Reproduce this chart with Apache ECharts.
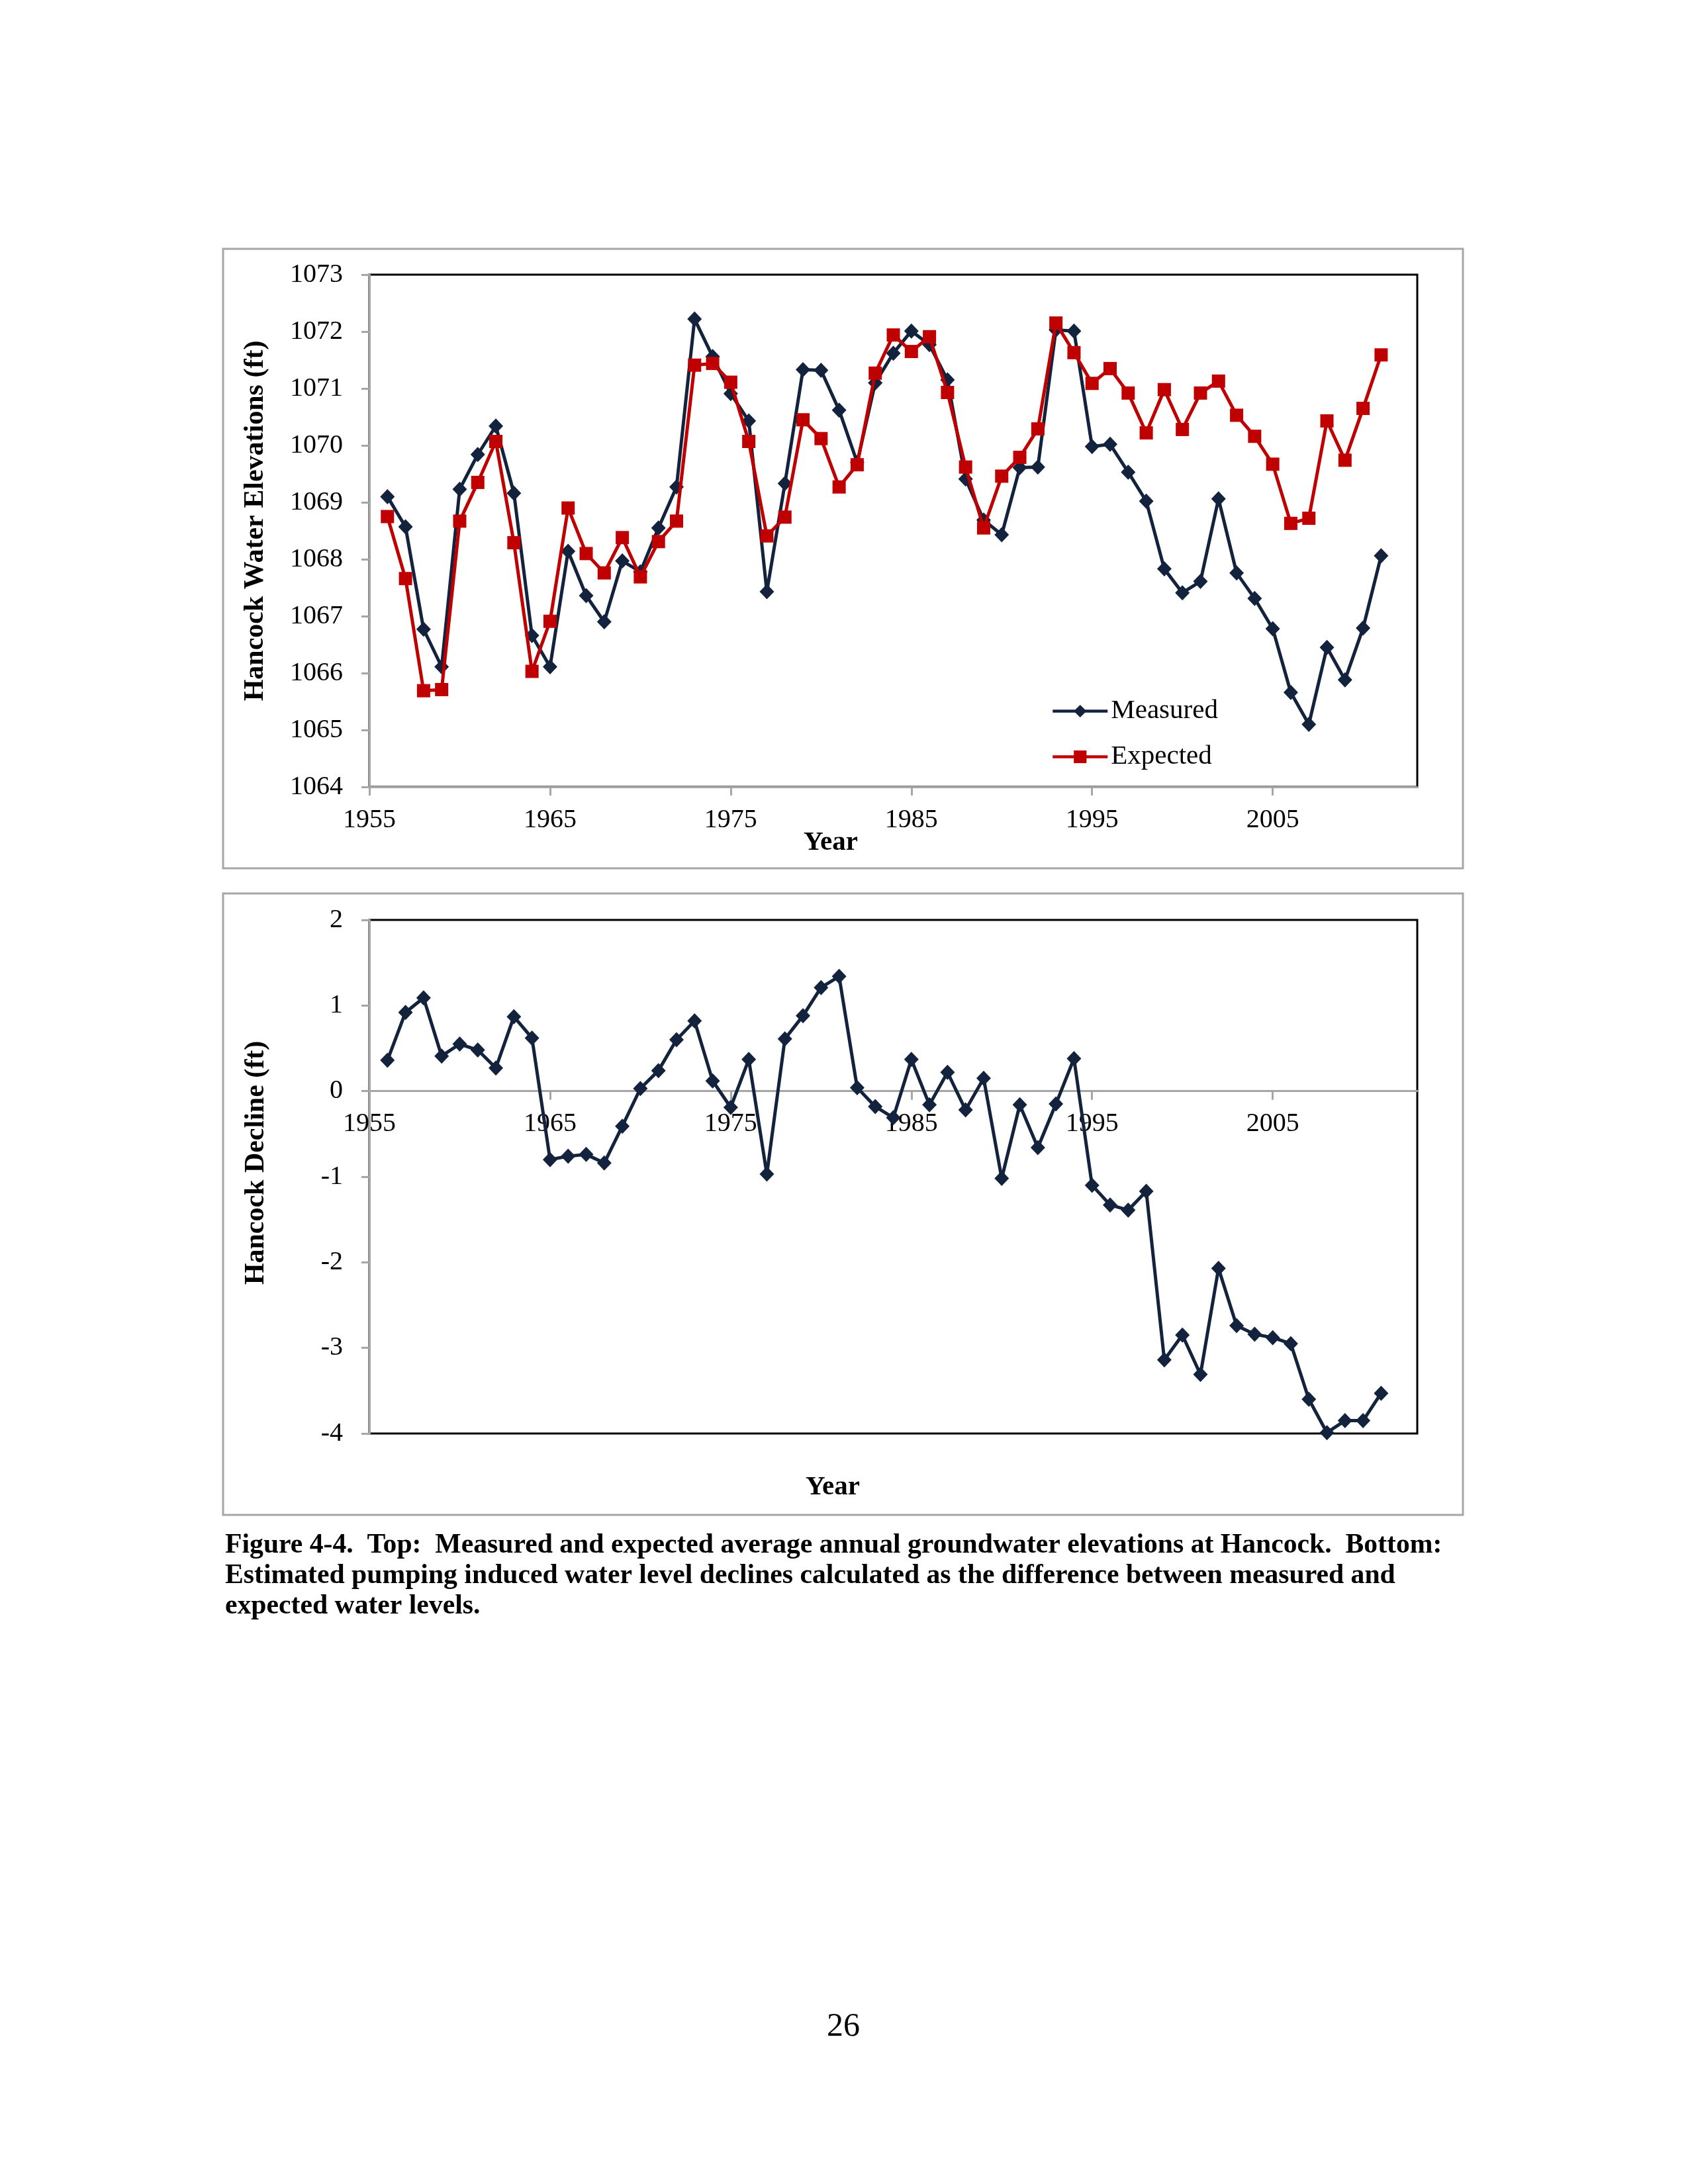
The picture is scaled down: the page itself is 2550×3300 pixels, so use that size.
<!DOCTYPE html>
<html><head><meta charset="utf-8">
<script src="https://cdn.jsdelivr.net/npm/echarts@6/dist/echarts.min.js"></script>
<style>html,body{margin:0;padding:0;background:#fff}#c{width:2550px;height:3300px}</style>
</head><body><div id="c"></div>
<script>
const years = [1956,1957,1958,1959,1960,1961,1962,1963,1964,1965,1966,1967,1968,1969,1970,
  1971,1972,1973,1974,1975,1976,1977,1978,1979,1980,1981,1982,1983,1984,1985,1986,1987,1988,
  1989,1990,1991,1992,1993,1994,1995,1996,1997,1998,1999,2000,2001,2002,2003,2004,2005,2006,
  2007,2008,2009,2010,2011];
const measured = [1069.10,1068.57,1066.77,1066.11,1069.23,1069.84,1070.34,1069.16,1066.66,1066.11,
  1068.14,1067.36,1066.90,1067.97,1067.78,1068.55,1069.27,1072.22,1071.56,1070.91,1070.43,1067.43,
  1069.33,1071.33,1071.32,1070.62,1069.70,1071.10,1071.62,1072.01,1071.77,1071.15,1069.41,1068.69,
  1068.43,1069.61,1069.62,1072.03,1072.01,1069.98,1070.02,1069.53,1069.02,1067.83,1067.41,1067.61,
  1069.06,1067.76,1067.31,1066.78,1065.66,1065.10,1066.45,1065.88,1066.79,1068.06];
const expected = [1068.75,1067.66,1065.69,1065.71,1068.67,1069.35,1070.07,1068.29,1066.03,1066.91,
  1068.90,1068.10,1067.76,1068.38,1067.69,1068.31,1068.67,1071.41,1071.44,1071.11,1070.07,1068.41,
  1068.74,1070.45,1070.12,1069.27,1069.66,1071.27,1071.94,1071.65,1071.91,1070.93,1069.62,1068.55,
  1069.46,1069.79,1070.29,1072.15,1071.63,1071.09,1071.35,1070.92,1070.22,1070.98,1070.28,1070.92,
  1071.13,1070.53,1070.16,1069.67,1068.63,1068.72,1070.43,1069.74,1070.65,1071.59];
const decline = [0.36,0.92,1.09,0.41,0.55,0.48,0.27,0.87,0.62,-0.80,-0.76,-0.74,-0.84,-0.41,0.03,
  0.24,0.60,0.82,0.12,-0.19,0.37,-0.97,0.61,0.88,1.21,1.34,0.04,-0.18,-0.31,0.37,-0.16,0.22,-0.22,
  0.15,-1.02,-0.16,-0.66,-0.15,0.38,-1.10,-1.33,-1.39,-1.17,-3.14,-2.85,-3.31,-2.07,-2.74,-2.84,
  -2.88,-2.95,-3.60,-3.99,-3.85,-3.85,-3.53];
const xTickLabels = [1955,1965,1975,1985,1995,2005];
const topTitleY = 'Hancock Water Elevations (ft)';
const bottomTitleY = 'Hancock Decline (ft)';
const xTitle = 'Year';
const seriesNames = ['Measured','Expected'];
const captionLines = [
  'Figure 4-4.  Top:  Measured and expected average annual groundwater elevations at Hancock.  Bottom:',
  'Estimated pumping induced water level declines calculated as the difference between measured and',
  'expected water levels.'
];
const pageNumber = '26';

const FONT = '"Liberation Serif", "Times New Roman", serif';
const NAVY = '#14233d';
const RED = '#c00000';
const GRAY = '#a6a6a6';

const pair = (ys, vs) => ys.map((y, i) => [y, vs[i]]);
const plain = v => String(v);

const BOTTOM_TOP = 1390, BOTTOM_H = 776, BOTTOM_MIN = -4, BOTTOM_MAX = 2;
// offset of the label axis from the bottom edge up to the zero line
const zeroOffset = -(BOTTOM_H * (0 - BOTTOM_MIN) / (BOTTOM_MAX - BOTTOM_MIN));

function xAxisCfg(gi, opts) {
  return Object.assign({
    type: 'value', gridIndex: gi, min: 1955, max: 2013, interval: 10,
    axisLine: { show: true, onZero: true, lineStyle: { color: GRAY, width: 3 } },
    axisTick: { show: true, inside: false, length: 13, customValues: xTickLabels,
      lineStyle: { color: GRAY, width: 3 } },
    axisLabel: { show: true, customValues: xTickLabels, margin: 30, color: '#000',
      fontFamily: FONT, fontSize: 40, formatter: plain },
    splitLine: { show: false }
  }, opts || {});
}
function yAxisCfg(gi, min, max) {
  return {
    type: 'value', gridIndex: gi, min: min, max: max, interval: 1,
    axisLine: { show: true, onZero: false, lineStyle: { color: GRAY, width: 3 } },
    axisTick: { show: true, inside: false, length: 12, lineStyle: { color: GRAY, width: 3 } },
    axisLabel: { margin: 40, color: '#000', fontFamily: FONT, fontSize: 40, formatter: plain },
    splitLine: { show: false }
  };
}

const chart = echarts.init(document.getElementById('c'), null, { renderer: 'canvas' });
chart.setOption({
  backgroundColor: '#fff',
  animation: false,
  grid: [
    { left: 558, top: 415, width: 1583, height: 774, show: true, borderColor: '#000', borderWidth: 3, backgroundColor: 'transparent' },
    { left: 558, top: BOTTOM_TOP, width: 1583, height: BOTTOM_H, show: true, borderColor: '#000', borderWidth: 3, backgroundColor: 'transparent' }
  ],
  xAxis: [
    xAxisCfg(0),
    xAxisCfg(1, { axisLabel: { show: false } }),
    xAxisCfg(1, {
      position: 'bottom', offset: zeroOffset,
      axisLine: { show: false, onZero: false },
      axisTick: { show: false },
      axisLabel: { show: true, customValues: xTickLabels, margin: 30, color: '#000',
        fontFamily: FONT, fontSize: 40, formatter: plain }
    })
  ],
  yAxis: [yAxisCfg(0, 1064, 1073), yAxisCfg(1, BOTTOM_MIN, BOTTOM_MAX)],
  legend: {
    data: seriesNames, orient: 'vertical', left: 1583, top: 1049,
    itemWidth: 83, itemHeight: 24, itemGap: 28,
    lineStyle: { width: 4.5 },
    textStyle: { fontFamily: FONT, fontSize: 41, color: '#000' }
  },
  series: [
    { name: seriesNames[0], type: 'line', xAxisIndex: 0, yAxisIndex: 0, data: pair(years, measured),
      symbol: 'diamond', symbolSize: [22, 23], lineStyle: { color: NAVY, width: 5 },
      itemStyle: { color: NAVY }, z: 3 },
    { name: seriesNames[1], type: 'line', xAxisIndex: 0, yAxisIndex: 0, data: pair(years, expected),
      symbol: 'rect', symbolSize: 20, lineStyle: { color: RED, width: 5 },
      itemStyle: { color: RED }, z: 4 },
    { name: 'Decline', type: 'line', xAxisIndex: 1, yAxisIndex: 1, data: pair(years, decline),
      symbol: 'diamond', symbolSize: [22, 23], lineStyle: { color: NAVY, width: 5 },
      itemStyle: { color: NAVY }, z: 3 }
  ],
  graphic: [
    { type: 'rect', shape: { x: 337, y: 376, width: 1873, height: 936 },
      style: { fill: 'none', stroke: GRAY, lineWidth: 3 }, z: -1 },
    { type: 'rect', shape: { x: 337, y: 1350, width: 1873, height: 939 },
      style: { fill: 'none', stroke: GRAY, lineWidth: 3 }, z: -1 },
    { type: 'text', x: 386, y: 787, rotation: Math.PI / 2,
      style: { text: topTitleY, font: 'bold 42px ' + FONT, fill: '#000', textAlign: 'center', textVerticalAlign: 'middle' } },
    { type: 'text', x: 1255, y: 1273,
      style: { text: xTitle, font: 'bold 41px ' + FONT, fill: '#000', textAlign: 'center', textVerticalAlign: 'middle' } },
    { type: 'text', x: 387, y: 1757, rotation: Math.PI / 2,
      style: { text: bottomTitleY, font: 'bold 42px ' + FONT, fill: '#000', textAlign: 'center', textVerticalAlign: 'middle' } },
    { type: 'text', x: 1258, y: 2247,
      style: { text: xTitle, font: 'bold 41px ' + FONT, fill: '#000', textAlign: 'center', textVerticalAlign: 'middle' } },
    { type: 'text', x: 340, y: 2335,
      style: { text: captionLines[0], font: 'bold 41.7px ' + FONT, fill: '#000', textAlign: 'left', textVerticalAlign: 'middle' } },
    { type: 'text', x: 340, y: 2381,
      style: { text: captionLines[1], font: 'bold 41.7px ' + FONT, fill: '#000', textAlign: 'left', textVerticalAlign: 'middle' } },
    { type: 'text', x: 340, y: 2427,
      style: { text: captionLines[2], font: 'bold 41.7px ' + FONT, fill: '#000', textAlign: 'left', textVerticalAlign: 'middle' } },
    { type: 'text', x: 1274, y: 3063,
      style: { text: pageNumber, font: '50px ' + FONT, fill: '#000', textAlign: 'center', textVerticalAlign: 'middle' } }
  ]
});
</script></body></html>
